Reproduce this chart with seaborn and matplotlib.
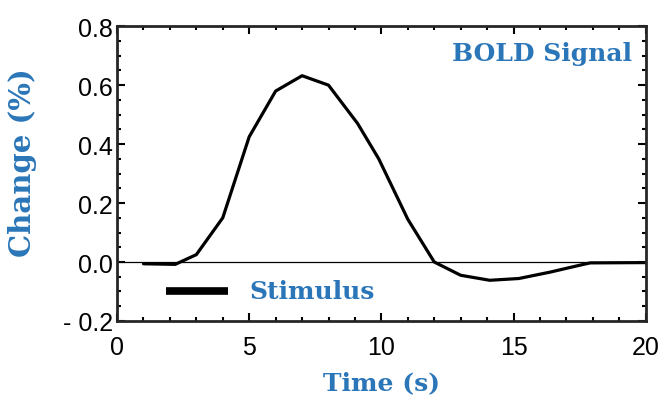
import numpy as np
import pandas as pd
import seaborn as sns
import matplotlib
matplotlib.use("Agg")
import matplotlib.pyplot as plt
from matplotlib.ticker import MultipleLocator, FixedLocator, FixedFormatter

# BOLD response
time_s = [1.0, 2.2, 3.0, 4.0, 5.0, 6.0, 7.0, 8.0, 9.1, 9.9, 11.0, 12.0,
          13.0, 14.1, 15.2, 16.4, 17.5, 17.9, 20.0]
change_pct = [-0.006, -0.008, 0.025, 0.15, 0.425, 0.58, 0.632, 0.60, 0.47,
              0.35, 0.145, 0.0, -0.045, -0.062, -0.056, -0.034, -0.011,
              -0.003, -0.002]

stim_start, stim_end = 1.85, 4.2
stim_level = -0.1

y_ticks = [-0.2, 0.0, 0.2, 0.4, 0.6, 0.8]
y_labels = ["- 0.2", "0.0", "0.2", "0.4", "0.6", "0.8"]
x_ticks = [0, 5, 10, 15, 20]

blue = "#2a76b8"
label_font = dict(family="DejaVu Serif", fontweight="bold", color=blue)

sns.set_style("ticks")
plt.rcParams["font.family"] = ["Liberation Sans", "DejaVu Sans"]

df = pd.DataFrame({"time": time_s, "change": change_pct})

fig = plt.figure(figsize=(6.65, 4.06), dpi=100)
ax = fig.add_axes([0.176, 0.207, 0.795, 0.726])

ax.axhline(0, color="black", lw=0.9, zorder=1)
sns.lineplot(data=df, x="time", y="change", color="black", lw=2.3, ax=ax)
ax.plot([stim_start, stim_end], [stim_level, stim_level], color="black",
        lw=5.5, solid_capstyle="butt")

ax.text(5.0, stim_level, "Stimulus", fontsize=18, va="center", ha="left",
        **label_font)
ax.text(19.5, 0.71, "BOLD Signal", fontsize=18, va="center", ha="right",
        **label_font)

ax.set_xlim(0, 20)
ax.set_ylim(-0.2, 0.8)
ax.xaxis.set_major_locator(FixedLocator(x_ticks))
ax.xaxis.set_minor_locator(MultipleLocator(1))
ax.yaxis.set_major_locator(FixedLocator(y_ticks))
ax.yaxis.set_major_formatter(FixedFormatter(y_labels))
ax.yaxis.set_minor_locator(MultipleLocator(0.05))

ax.tick_params(which="both", direction="in", top=True, right=True,
               width=1.5, labelsize=18, colors="black")
ax.tick_params(which="major", length=6)
ax.tick_params(which="minor", length=3)
ax.tick_params(axis="x", which="major", pad=10)
ax.tick_params(axis="y", which="major", pad=3)
for sp in ax.spines.values():
    sp.set_linewidth(2)
    sp.set_visible(True)

ax.set_xlabel("Time (s)", fontsize=18, labelpad=8, **label_font)
ax.set_ylabel("Change (%)", fontsize=21, **label_font)
ax.yaxis.set_label_coords(-0.151, 0.54)

fig.savefig("out.png", dpi=100)
